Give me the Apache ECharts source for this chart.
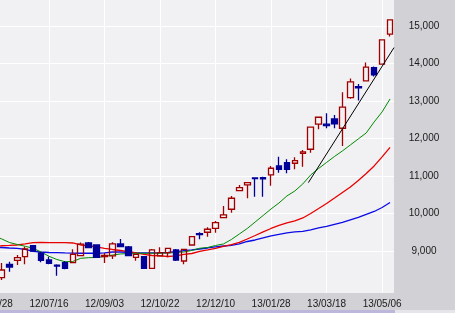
<!DOCTYPE html>
<html><head><meta charset="utf-8">
<script src="https://cdn.jsdelivr.net/npm/echarts@6/dist/echarts.min.js"></script>
<style>html,body{margin:0;padding:0;background:#d2d1d5;}#c{width:455px;height:313px;}</style>
</head><body><div id="c"></div>
<script>
const dates = ['12/05/28','12/06/04','12/06/11','12/06/18','12/06/25','12/07/02','12/07/09','12/07/16','12/07/23','12/07/30','12/08/06','12/08/13','12/08/20','12/08/27','12/09/03','12/09/10','12/09/17','12/09/24','12/10/01','12/10/08','12/10/15','12/10/22','12/10/29','12/11/05','12/11/12','12/11/19','12/11/26','12/12/03','12/12/10','12/12/17','12/12/24','12/12/31','13/01/07','13/01/14','13/01/21','13/01/28','13/02/04','13/02/11','13/02/18','13/02/25','13/03/04','13/03/11','13/03/18','13/03/25','13/04/01','13/04/08','13/04/15','13/04/22','13/04/29','13/05/06','13/05/13'];
const opens  = [8500,8288,8645,8752,8848,9141,8947,8760,8620,8688,8688,8875,9213,9160,8850,8867,9187,9107,8832,8848,8539,8867,8955,9027,8733,9160,9460,9499,9605,9888,10112,10608,10760,10945,10955,11027,11267,11355,11339,11600,11712,12379,12379,12520,12272,13088,13381,13533,13888,13979,14779];
const closes = [8300,8493,8573,8821,9053,9000,8752,8672,8600,8539,8912,9184,9088,8832,8880,9187,9115,8875,8912,8539,9027,8955,9072,8760,9045,9381,9440,9579,9755,9960,10405,10688,10821,10930,10920,11205,11179,11179,11408,11640,12299,12565,12341,12387,12832,13507,13347,13899,13693,14627,15160];
const lows   = [8250,8227,8448,8627,8645,8990,8698,8645,8341,8512,8688,8875,9070,8820,8680,8787,9100,8859,8741,8530,8520,8860,8832,8733,8645,9150,9312,9381,9488,9880,10021,10600,10405,10448,10448,10741,11088,11072,11179,11248,11621,12245,12272,12272,11800,13060,13008,13515,13648,13970,14715];
const highs  = [8600,8680,8715,8893,9115,9155,8973,8848,8645,8733,9045,9227,9240,9170,8947,9232,9320,9133,8920,8860,9053,9099,9080,9053,9050,9390,9499,9632,9800,10200,10467,10760,10830,10955,10981,11267,11515,11445,11499,11693,12300,12570,12672,12627,13232,13595,13453,14021,13915,14645,15170];
const maGreen = [9400,9325,9227,9173,9125,9072,8973,8859,8773,8715,8720,8805,8821,8827,8853,8893,8920,8933,8939,8939,8939,8939,8947,8960,8973,9013,9072,9093,9147,9187,9307,9453,9600,9773,9947,10120,10280,10467,10600,10787,11027,11200,11360,11520,11667,11827,11987,12147,12440,12707,13053];
const maRed = [9133,9139,9147,9160,9187,9221,9227,9221,9221,9221,9213,9160,9139,9107,9072,9040,9013,8981,8947,8907,8880,8867,8853,8867,8907,8933,8987,9027,9072,9120,9168,9227,9320,9413,9507,9600,9680,9747,9800,9880,10000,10133,10267,10413,10560,10707,10880,11067,11267,11507,11760];
const maBlue = [9093,9093,9080,9072,9040,8992,8973,8960,8955,8947,8941,8939,8939,8939,8947,8973,8973,8965,8955,8947,8947,8947,8960,8979,9008,9027,9053,9080,9112,9133,9152,9187,9253,9293,9347,9400,9440,9480,9507,9520,9560,9613,9653,9707,9760,9827,9893,9973,10053,10160,10293];
const trendX = [39.7, 50.5];
const trendY = [10821, 14421];
const yTicks = [9000,10000,11000,12000,13000,14000,15000];
const yMin = 7880, yMax = 15690;

const candles = dates.map((d, i) => [opens[i], closes[i], lows[i], highs[i]]);
const chart = echarts.init(document.getElementById('c'), null, {renderer: 'canvas'});
const FONT = '"Liberation Sans", Arial, sans-serif';
chart.setOption({
  animation: false,
  backgroundColor: '#d2d1d5',
  grid: {left: -10.5, top: 0, width: 404.5, height: 293, containLabel: false, outerBoundsMode: 'none',
    show: true, backgroundColor: '#f1f0f3', borderWidth: 0},
  xAxis: [{
    type: 'category', data: dates, boundaryGap: true,
    axisLine: {show: false}, axisTick: {show: false},
    axisLabel: {interval: 6, margin: 6, color: '#1a1a1a', fontSize: 10, fontFamily: FONT, hideOverlap: false},
    splitLine: {show: true, interval: 6, alignWithLabel: true, lineStyle: {color: '#ffffff', width: 1}}
  }, {
    type: 'value', min: -0.5, max: 50.5, show: false, splitLine: {show: false}
  }],
  yAxis: {
    type: 'value', position: 'right', min: yMin, max: yMax, scale: true,
    axisLine: {show: true, lineStyle: {color: '#ffffff', width: 1.5}},
    axisTick: {show: false, customValues: yTicks},
    axisLabel: {customValues: yTicks, margin: 30, align: 'center', color: '#1a1a1a', fontSize: 10, fontFamily: FONT,
      formatter: v => v.toLocaleString('en-US')},
    splitLine: {show: true, lineStyle: {color: '#ffffff', width: 1}}
  },
  graphic: [
    {type: 'rect', shape: {x: 0, y: 310, width: 395, height: 3}, style: {fill: '#bdb7db'}, silent: true},
    {type: 'rect', shape: {x: 395, y: 310, width: 60, height: 3}, style: {fill: '#e6e5ea'}, silent: true}
  ],
  series: [
    {type: 'line', data: maBlue, symbol: 'none', lineStyle: {color: '#0a0ae6', width: 1.3}, z: 2},
    {type: 'line', data: maRed, symbol: 'none', lineStyle: {color: '#e80000', width: 1.3}, z: 2},
    {type: 'line', data: maGreen, symbol: 'none', lineStyle: {color: '#008a00', width: 1}, z: 2},
    {type: 'candlestick', data: candles, barWidth: 6, z: 3,
      itemStyle: {color: 'rgba(0,0,0,0)', color0: '#000099', borderColor: '#a00000', borderColor0: '#000099', borderWidth: 1.3}},
    {type: 'line', xAxisIndex: 1, data: trendX.map((x, i) => [x, trendY[i]]), symbol: 'none', lineStyle: {color: '#000000', width: 1}, z: 4}
  ]
});
</script></body></html>
